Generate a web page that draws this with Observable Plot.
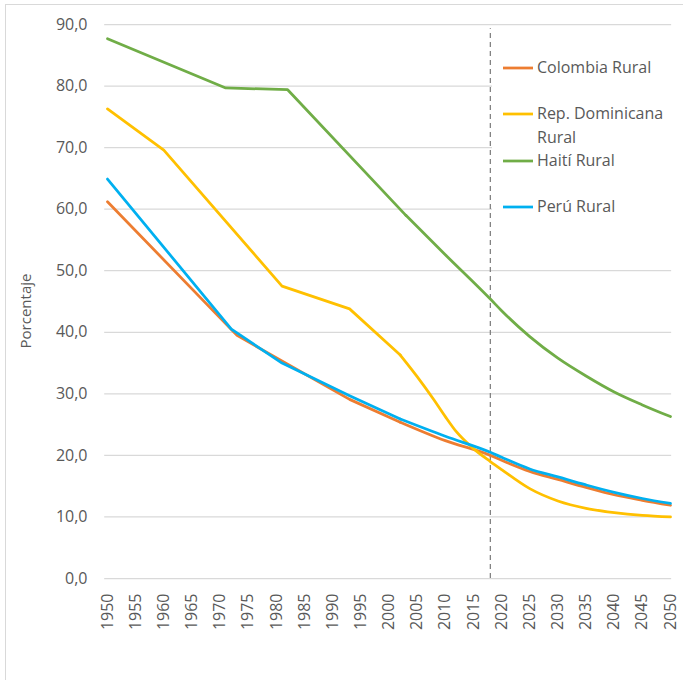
<!DOCTYPE html>
<html><head><meta charset="utf-8">
<script src="https://cdn.jsdelivr.net/npm/d3@7"></script>
<script src="https://cdn.jsdelivr.net/npm/@observablehq/plot@0.6"></script>
<style>body{margin:0;background:#fff;} #chart{width:683px;height:680px;}</style>
</head><body><div id="chart"></div>
<script>
// ---- data ----
const seriesNames = ["Colombia Rural", "Rep. Dominicana Rural", "Haití Rural", "Perú Rural"];
const seriesColors = ["#ED7D31", "#FFC000", "#70AD47", "#00B0F0"];

const colombiaYears  = [1950, 1973, 1982, 1993, 2002, 2010, 2018, 2020, 2025, 2030, 2035, 2040, 2045, 2050];
const colombiaValues = [61.2, 39.5, 34.8, 29.1, 25.4, 22.4, 20.0, 19.2, 17.4, 16.1, 14.8, 13.6, 12.7, 11.9];

const domYears  = [1950, 1960, 1981, 1993, 2002, 2005, 2008, 2010, 2012, 2015, 2018, 2020, 2025, 2030, 2035, 2040, 2045, 2050];
const domValues = [76.3, 69.6, 47.5, 43.8, 36.3, 32.8, 29.0, 26.3, 23.8, 21.1, 19.0, 17.7, 14.6, 12.6, 11.4, 10.7, 10.25, 10.0];

const haitiYears  = [1950, 1971, 1982, 2003, 2010, 2018, 2020, 2025, 2030, 2035, 2040, 2045, 2050];
const haitiValues = [87.7, 79.7, 79.4, 59.0, 52.6, 45.4, 43.5, 39.3, 35.8, 32.9, 30.3, 28.2, 26.3];

const peruYears  = [1950, 1972, 1981, 1993, 2002, 2010, 2018, 2020, 2025, 2030, 2035, 2040, 2045, 2050];
const peruValues = [64.9, 40.5, 35.0, 29.7, 25.9, 23.1, 20.5, 19.7, 17.8, 16.5, 15.2, 14.0, 13.0, 12.2];

const xTickYears = [1950,1955,1960,1965,1970,1975,1980,1985,1990,1995,2000,2005,2010,2015,2020,2025,2030,2035,2040,2045,2050];
const yTickValues = [0,10,20,30,40,50,60,70,80,90];
const markerYear = [2018];
const yAxisTitle = "Porcentaje";

// ---- build table ----
const seriesYears = [colombiaYears, domYears, haitiYears, peruYears];
const seriesValues = [colombiaValues, domValues, haitiValues, peruValues];
const rows = [];
seriesNames.forEach((name, k) => {
  seriesYears[k].forEach((yr, i) => rows.push({series: name, year: yr, value: seriesValues[k][i]}));
});
// census-period part is drawn with straight segments, the later (projection) part smoothly
const splitYear = 2002;
const histRows = rows.filter(d => d.year <= splitYear + 1);
const projRows = rows.filter(d => d.year >= splitYear);

const lineOpts = {x: "year", y: "value", z: "series", stroke: "series", strokeWidth: 2.75, strokeLinejoin: "round"};

const plot = Plot.plot({
  width: 683, height: 680,
  marginLeft: 107, marginRight: 13, marginTop: 24, marginBottom: 102,
  style: {fontFamily: "'Open Sans', sans-serif", fontSize: "16px", color: "#595959", background: "#fff", overflow: "visible"},
  x: {domain: [1950, 2050]},
  y: {domain: [0, 90]},
  color: {domain: seriesNames, range: seriesColors},
  marks: [
    Plot.ruleY(yTickValues, {x1: () => 1949.5, x2: () => 2050.2, stroke: "#d9d9d9", strokeWidth: 1.25}),
    Plot.ruleX(markerYear, {y1: () => 0, y2: () => 89.3, stroke: "#7f7f7f", strokeDasharray: "5,4", strokeWidth: 1.25}),
    Plot.line(histRows, {...lineOpts, curve: "linear"}),
    Plot.line(projRows, {...lineOpts, curve: "monotone-x"}),
    Plot.axisX({ticks: xTickYears, tickSize: 0, tickPadding: 15, tickRotate: -90, tickFormat: d => String(d), label: null}),
    Plot.axisY({ticks: yTickValues, tickSize: 0, tickPadding: 20, tickFormat: d => d.toFixed(1).replace(".", ","), label: null})
  ]
});

const svg = d3.select(plot);
// outer chart border
svg.append("rect").attr("x", 5.5).attr("y", 4.5).attr("width", 700).attr("height", 700)
  .attr("fill", "none").attr("stroke", "#d9d9d9").attr("stroke-width", 1);
// y-axis title
svg.append("text").attr("transform", "translate(25,311) rotate(-90)")
  .attr("text-anchor", "middle").attr("dominant-baseline", "central")
  .attr("fill", "#595959").attr("font-size", 15).text(yAxisTitle);

// legend (white box hides the gridlines behind it, as in the reference)
const lg = svg.append("g").attr("text-anchor", "start");
lg.append("rect").attr("x", 492).attr("y", 40).attr("width", 181).attr("height", 195)
  .style("fill", "#ffffff").style("stroke", "none");
const legendRows = [
  {lines: ["Colombia Rural"], y: 67},
  {lines: ["Rep. Dominicana", "Rural"], y: 113},
  {lines: ["Haití Rural"], y: 160},
  {lines: ["Perú Rural"], y: 206}
];
legendRows.forEach((r, k) => {
  lg.append("line").attr("x1", 503).attr("x2", 533).attr("y1", r.y + 1).attr("y2", r.y + 1)
    .attr("stroke", seriesColors[k]).attr("stroke-width", 2.75);
  r.lines.forEach((t, j) => {
    lg.append("text").attr("x", 537).attr("y", r.y + j * 24).attr("dominant-baseline", "central")
      .attr("text-anchor", "start")
      .attr("fill", "#595959").attr("font-size", 16).text(t);
  });
});

document.getElementById("chart").appendChild(plot);
</script>
</body></html>
